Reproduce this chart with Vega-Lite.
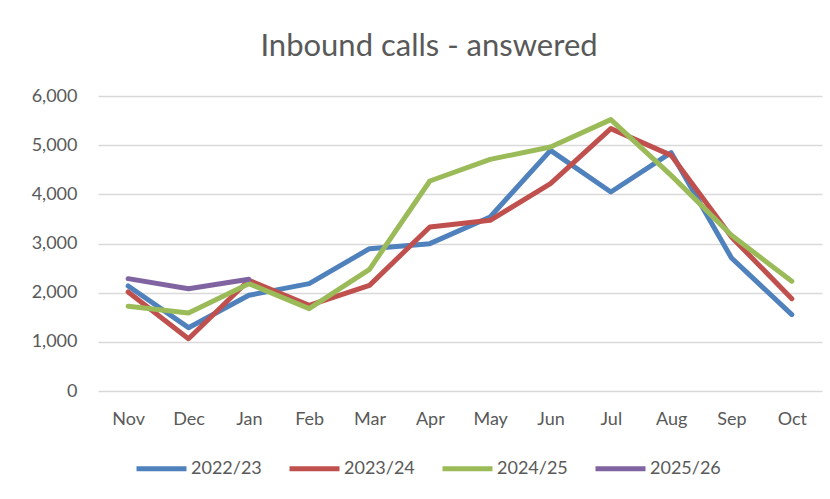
{
  "$schema": "https://vega.github.io/schema/vega-lite/v6.json",
  "autosize": {"type": "none"},
  "width": 724,
  "height": 295,
  "padding": {"left": 98, "top": 96, "right": 8, "bottom": 108},
  "background": "white",
  "title": {
    "text": "Inbound calls - answered",
    "font": "Lato",
    "fontSize": 31,
    "fontWeight": "normal",
    "color": "#595959",
    "anchor": "middle",
    "frame": "group",
    "dx": -31,
    "offset": 24
  },
  "data": {
    "values": [
      {"month": "Nov", "year": "2022/23", "calls": 2136},
      {"month": "Dec", "year": "2022/23", "calls": 1288},
      {"month": "Jan", "year": "2022/23", "calls": 1946},
      {"month": "Feb", "year": "2022/23", "calls": 2183},
      {"month": "Mar", "year": "2022/23", "calls": 2895},
      {"month": "Apr", "year": "2022/23", "calls": 2997},
      {"month": "May", "year": "2022/23", "calls": 3539},
      {"month": "Jun", "year": "2022/23", "calls": 4895},
      {"month": "Jul", "year": "2022/23", "calls": 4047},
      {"month": "Aug", "year": "2022/23", "calls": 4847},
      {"month": "Sep", "year": "2022/23", "calls": 2705},
      {"month": "Oct", "year": "2022/23", "calls": 1553},
      {"month": "Nov", "year": "2023/24", "calls": 2014},
      {"month": "Dec", "year": "2023/24", "calls": 1064},
      {"month": "Jan", "year": "2023/24", "calls": 2251},
      {"month": "Feb", "year": "2023/24", "calls": 1742},
      {"month": "Mar", "year": "2023/24", "calls": 2149},
      {"month": "Apr", "year": "2023/24", "calls": 3336},
      {"month": "May", "year": "2023/24", "calls": 3471},
      {"month": "Jun", "year": "2023/24", "calls": 4217},
      {"month": "Jul", "year": "2023/24", "calls": 5336},
      {"month": "Aug", "year": "2023/24", "calls": 4793},
      {"month": "Sep", "year": "2023/24", "calls": 3132},
      {"month": "Oct", "year": "2023/24", "calls": 1878},
      {"month": "Nov", "year": "2024/25", "calls": 1722},
      {"month": "Dec", "year": "2024/25", "calls": 1586},
      {"month": "Jan", "year": "2024/25", "calls": 2183},
      {"month": "Feb", "year": "2024/25", "calls": 1675},
      {"month": "Mar", "year": "2024/25", "calls": 2475},
      {"month": "Apr", "year": "2024/25", "calls": 4271},
      {"month": "May", "year": "2024/25", "calls": 4712},
      {"month": "Jun", "year": "2024/25", "calls": 4963},
      {"month": "Jul", "year": "2024/25", "calls": 5519},
      {"month": "Aug", "year": "2024/25", "calls": 4386},
      {"month": "Sep", "year": "2024/25", "calls": 3166},
      {"month": "Oct", "year": "2024/25", "calls": 2231},
      {"month": "Nov", "year": "2025/26", "calls": 2285},
      {"month": "Dec", "year": "2025/26", "calls": 2081},
      {"month": "Jan", "year": "2025/26", "calls": 2271}
    ]
  },
  "mark": {"type": "line", "strokeWidth": 5, "strokeCap": "round", "strokeJoin": "round"},
  "encoding": {
    "x": {
      "field": "month",
      "type": "nominal",
      "sort": ["Nov", "Dec", "Jan", "Feb", "Mar", "Apr", "May", "Jun", "Jul", "Aug", "Sep", "Oct"],
      "scale": {"type": "point", "padding": 0.5},
      "axis": {
        "title": null,
        "labelAngle": 0,
        "labelFont": "Lato",
        "labelFontSize": 18,
        "labelColor": "#595959",
        "labelPadding": 19,
        "ticks": false,
        "domain": false,
        "grid": false
      }
    },
    "y": {
      "field": "calls",
      "type": "quantitative",
      "scale": {"domain": [0, 6000], "nice": false},
      "axis": {
        "title": null,
        "values": [0, 1000, 2000, 3000, 4000, 5000, 6000],
        "format": ",d",
        "labelFont": "Lato",
        "labelFontSize": 18,
        "labelColor": "#595959",
        "labelPadding": 21,
        "ticks": false,
        "domain": false,
        "grid": true,
        "gridColor": "#d9d9d9",
        "gridWidth": 1.3
      }
    },
    "color": {
      "field": "year",
      "type": "nominal",
      "scale": {
        "domain": ["2022/23", "2023/24", "2024/25", "2025/26"],
        "range": ["#4F81BD", "#C0504D", "#9BBB59", "#8064A2"]
      },
      "legend": {
        "title": null,
        "orient": "none",
        "direction": "horizontal",
        "legendX": 36,
        "legendY": 345,
        "symbolType": "stroke",
        "symbolSize": 2500,
        "symbolStrokeWidth": 5,
        "labelFont": "Lato",
        "labelFontSize": 18,
        "labelColor": "#595959",
        "labelOffset": 2,
        "columnPadding": 17
      }
    }
  },
  "config": {"view": {"stroke": null}}
}
